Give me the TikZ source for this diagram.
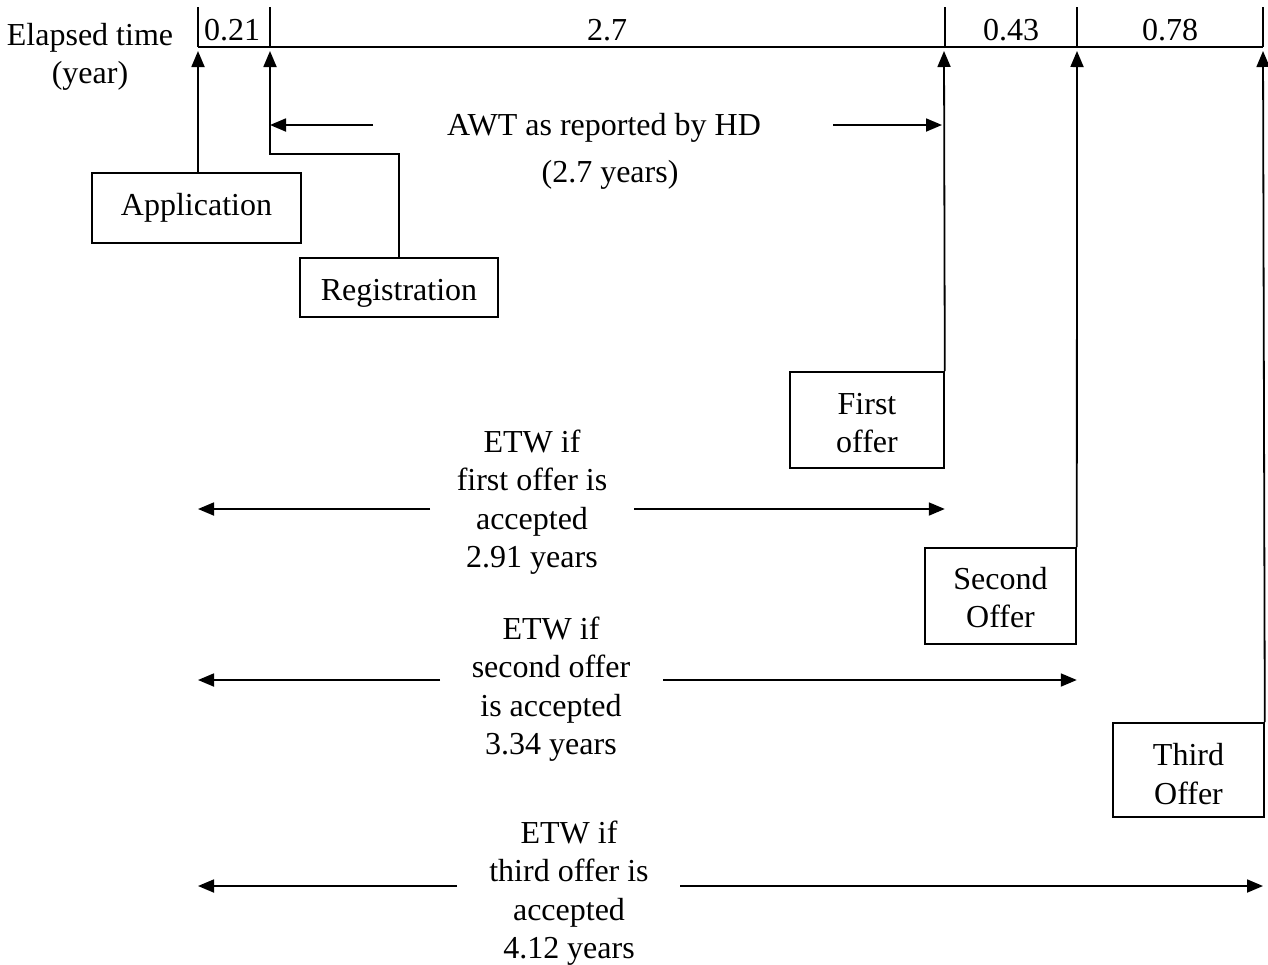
\documentclass[tikz,border=0pt]{standalone}
\usepackage{fontspec}
\setmainfont{Liberation Serif}
\usetikzlibrary{arrows.meta}
\begin{document}
\begin{tikzpicture}[x=1pt,y=-1pt,
  txt/.style={inner sep=0pt,font=\fontsize{32}{38.5}\selectfont,align=center},
  box/.style={draw,line width=1.6pt,inner sep=0pt,font=\fontsize{32}{38.5}\selectfont,align=center},
  ln/.style={line width=1.8pt},
  arr/.style={line width=1.8pt,-{Triangle[length=16pt,width=13pt]}}]
\useasboundingbox (0,0) rectangle (1268,964);
% timeline
\coordinate (t0) at (198,47);
\coordinate (t1) at (270,47);
\coordinate (t2) at (945,47);
\coordinate (t3) at (1077,47);
\coordinate (t4) at (1263,47);
\draw[ln] (t0) -- (t4);
\foreach \t in {t0,t1,t2,t3,t4} \draw[ln] (\t) -- ++(0,-40);
\node[txt] (l0) at (232,30) {0.21};
\node[txt] (l1) at (607,30) {2.7};
\node[txt] (l2) at (1011,30) {0.43};
\node[txt] (l3) at (1170,30) {0.78};
\node[txt] (et) at (90,57) {Elapsed time\\(year)};
% boxes
\node[box,minimum width=209pt,minimum height=70pt] (app) at (196.5,208) {Application};
\node[box,minimum width=198pt,minimum height=59pt] (reg) at (399,287.5) {\raisebox{-5.5pt}[\height][\depth]{Registration}};
\node[box,minimum width=154pt,minimum height=96pt] (fo) at (867,420) {\raisebox{-3pt}[\height][\depth]{\parbox{150pt}{\centering First\\offer}}};
\node[box,minimum width=151pt,minimum height=96pt] (so) at (1000.5,596) {\raisebox{-1.5pt}[\height][\depth]{\parbox{148pt}{\centering Second\\Offer}}};
\node[box,minimum width=151pt,minimum height=94pt] (to) at (1188.5,770) {\raisebox{-4pt}[\height][\depth]{\parbox{148pt}{\centering Third\\Offer}}};
% arrow tips
\coordinate (a0) at (198,51);
\coordinate (a1) at (270,51);
\coordinate (a2) at (944,51);
\coordinate (a3) at (1077,51);
\coordinate (a4) at (1263,51);
\draw[arr] (app.north -| a0) -- (a0);
\draw[arr] (reg.north) -- ++(0,-103) -| (a1);
\draw[arr] (fo.north east) -- (a2);
\draw[arr] (so.north east) -- (a3);
\draw[arr] (to.north east) -- (a4);
% AWT
\node[txt] (awt) at (604,128) {AWT as reported by HD};
\node[txt] (awy) at (610,175) {(2.7 years)};
\coordinate (awL) at (373,125);
\coordinate (awR) at (833,125);
\draw[arr] (awL) -- (awL -| a1);
\draw[arr] (awR) -- (942,125);
% ETW 1
\node[txt] (e1) at (532,502) {ETW if\\first offer is\\accepted\\2.91 years};
\coordinate (e1L) at (430,509);
\coordinate (e1R) at (634,509);
\draw[arr] (e1L) -- (e1L -| a0);
\draw[arr] (e1R) -- (e1R -| fo.east);
% ETW 2
\node[txt] (e2) at (551,689) {ETW if\\second offer\\is accepted\\3.34 years};
\coordinate (e2L) at (440,680);
\coordinate (e2R) at (663,680);
\draw[arr] (e2L) -- (e2L -| a0);
\draw[arr] (e2R) -- (e2R -| so.east);
% ETW 3
\node[txt] (e3) at (569,893) {ETW if\\third offer is\\accepted\\4.12 years};
\coordinate (e3L) at (457,886);
\coordinate (e3R) at (680,886);
\draw[arr] (e3L) -- (e3L -| a0);
\draw[arr] (e3R) -- (e3R -| a4);
\end{tikzpicture}
\end{document}
